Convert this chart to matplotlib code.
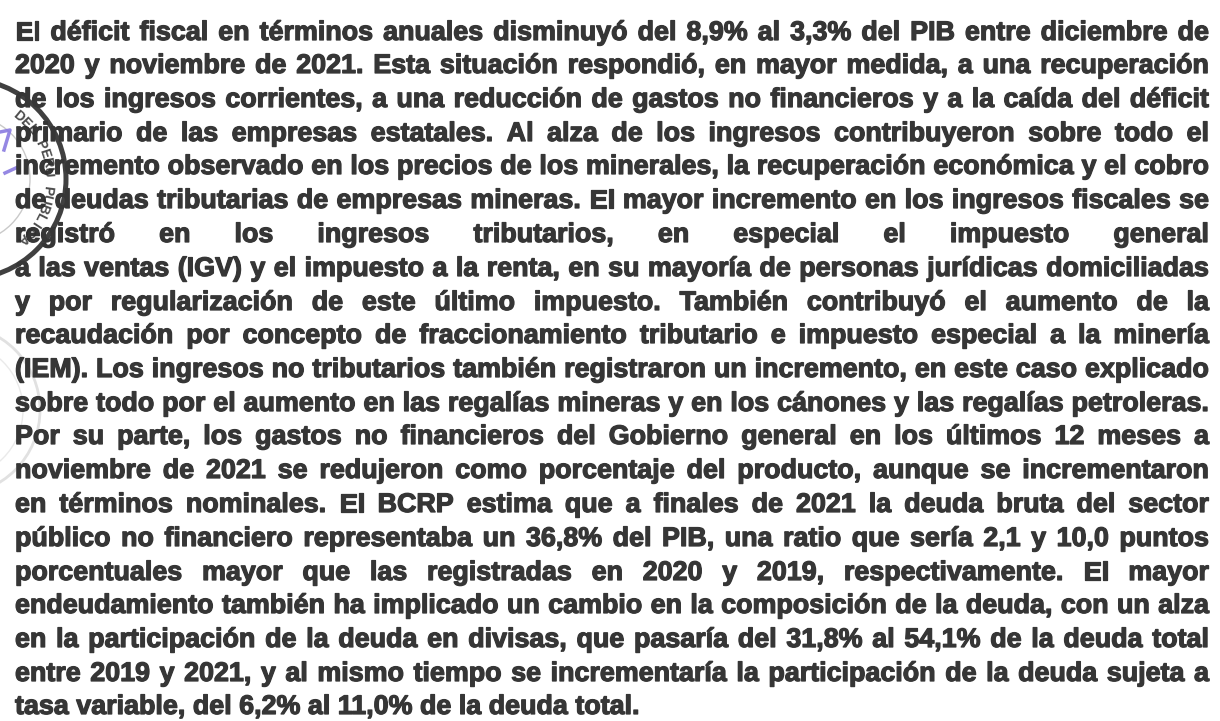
import numpy as np
import matplotlib
matplotlib.use("Agg")
import matplotlib.pyplot as plt
import matplotlib.patheffects as pe
from matplotlib.patches import Circle

plt.rcParams["text.hinting"] = "none"

# text of the scanned paragraph, one entry per printed line
lines = [
    "El déficit fiscal en términos anuales disminuyó del 8,9% al 3,3% del PIB entre diciembre de",
    "2020 y noviembre de 2021. Esta situación respondió, en mayor medida, a una recuperación",
    "de los ingresos corrientes, a una reducción de gastos no financieros y a la caída del déficit",
    "primario de las empresas estatales. Al alza de los ingresos contribuyeron sobre todo el",
    "incremento observado en los precios de los minerales, la recuperación económica y el cobro",
    "de deudas tributarias de empresas mineras. El mayor incremento en los ingresos fiscales se",
    "registró en los ingresos tributarios, en especial el impuesto general",
    "a las ventas (IGV) y el impuesto a la renta, en su mayoría de personas jurídicas domiciliadas",
    "y por regularización de este último impuesto. También contribuyó el aumento de la",
    "recaudación por concepto de fraccionamiento tributario e impuesto especial a la minería",
    "(IEM). Los ingresos no tributarios también registraron un incremento, en este caso explicado",
    "sobre todo por el aumento en las regalías mineras y en los cánones y las regalías petroleras.",
    "Por su parte, los gastos no financieros del Gobierno general en los últimos 12 meses a",
    "noviembre de 2021 se redujeron como porcentaje del producto, aunque se incrementaron",
    "en términos nominales. El BCRP estima que a finales de 2021 la deuda bruta del sector",
    "público no financiero representaba un 36,8% del PIB, una ratio que sería 2,1 y 10,0 puntos",
    "porcentuales mayor que las registradas en 2020 y 2019, respectivamente. El mayor",
    "endeudamiento también ha implicado un cambio en la composición de la deuda, con un alza",
    "en la participación de la deuda en divisas, que pasaría del 31,8% al 54,1% de la deuda total",
    "entre 2019 y 2021, y al mismo tiempo se incrementaría la participación de la deuda sujeta a",
    "tasa variable, del 6,2% al 11,0% de la deuda total.",
]

W, H = 1220, 721
ink = "#363636"
left, right = 15, 1209
first_base, pitch = 39.5, 33.75

fig = plt.figure(figsize=(W / 100, H / 100), dpi=100)
fig.patch.set_facecolor("white")
ax = fig.add_axes([0, 0, 1, 1])
ax.set_xlim(0, W)
ax.set_ylim(H, 0)
ax.axis("off")

renderer = fig.canvas.get_renderer()
font = dict(family="Liberation Sans", weight="bold", color=ink)
heavy = [pe.withStroke(linewidth=0.9, foreground=ink)]


def width(s, size):
    t = fig.text(0, 0, s, fontsize=size, **font)
    w = t.get_window_extent(renderer).width
    t.remove()
    return w


def natural(ln, size):
    sp = width("a a", size) - width("aa", size)
    ws = ln.split()
    return sum(width(w, size) for w in ws) + sp * (len(ws) - 1)


# grow the type until the widest line fills the text block, as in the scan
size = 18.0
widest = max(natural(ln, size) for ln in lines[:-1])
size *= (right - left - 4) / widest
space = width("a a", size) - width("aa", size)

for i, ln in enumerate(lines):
    words = ln.split()
    ws = [width(w, size) for w in words]
    y = round(first_base + i * pitch)
    if i < len(lines) - 1 and len(words) > 1:
        gap = (right - left - sum(ws)) / (len(words) - 1)
    else:
        gap = space
    x = left
    for w, wd in zip(words, ws):
        ax.text(x, y, w, fontsize=size, va="baseline", ha="left",
                path_effects=heavy, **font)
        x += wd + gap

# round seal stamped over the left margin
cx, cy = -34, 179
ax.add_patch(Circle((cx, cy), 100, fill=False, lw=3.6, ec="#2b2b2b", alpha=0.9))
ax.add_patch(Circle((cx, cy), 64, fill=False, lw=1.0, ec="#666666", alpha=0.35))
seal = "DEL PERU PUBLICA"
angles = np.linspace(50, -46, len(seal))
for ch, a in zip(seal, angles):
    r = np.deg2rad(a)
    ax.text(cx + 82 * np.cos(r), cy - 82 * np.sin(r), ch, fontsize=10,
            rotation=a - 90, ha="center", va="center",
            family="Liberation Sans", weight="bold", color="#2e2e2e", alpha=0.85)
ax.plot([0, 10, 4], [132, 130, 150], color="#8a7be0", lw=2.5, alpha=0.9)
ax.plot([5, 18], [173, 167], color="#8a7be0", lw=2.5, alpha=0.9)

# faint second seal lower down
ax.add_patch(Circle((-45, 410), 85, fill=False, lw=2, ec="#cdcdcd", alpha=0.6))
ax.add_patch(Circle((-45, 410), 68, fill=False, lw=1, ec="#d5d5d5", alpha=0.5))

fig.savefig("out.png", dpi=100, facecolor="white")
